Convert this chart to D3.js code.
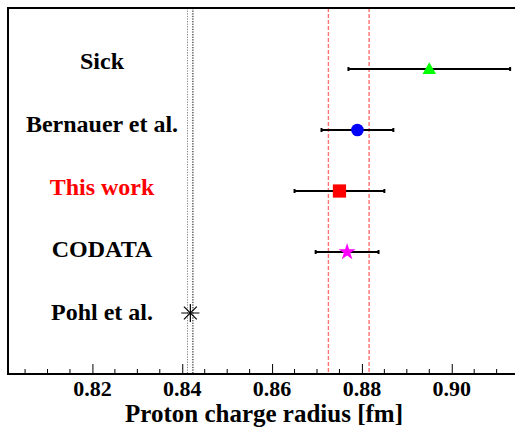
<!DOCTYPE html>
<html>
<head>
<meta charset="utf-8">
<script src="https://cdn.jsdelivr.net/npm/d3@7"></script>
<style>
  body { margin: 0; background: #fff; }
  text { font-family: "Liberation Serif", "Times New Roman", serif; font-weight: bold; }
</style>
</head>
<body>
<div id="chart"></div>
<script>
// measurements, top to bottom
var names = ["Sick", "Bernauer et al.", "This work", "CODATA", "Pohl et al."];
var radius = [0.895, 0.879, 0.875, 0.8767, 0.8418];
var errors = [0.018, 0.008, 0.010, 0.0070, 0.0007];
var markers = ["triangle", "circle", "square", "star", "asterisk"];
var colors = ["#00ff00", "#0000ff", "#ff0000", "#ff00ff", "#000000"];

// bands drawn as vertical lines
var pohlBand = [0.84117, 0.84237];
var codataBand = [0.87254, 0.88160];

var tickValues = [0.82, 0.84, 0.86, 0.88, 0.90];

var W = 515, H = 428;
var padL = 8, padT = 8, padB = 374;

var svg = d3.select("#chart").append("svg")
    .attr("width", W)
    .attr("height", H);

var x = d3.scaleLinear().domain([0.8012, 0.916]).range([padL, 523.6]);
var y = d3.scaleLinear().domain([0, 6]).range([padB, padT]);

// dotted lines (Pohl band)
svg.selectAll(".pohl").data(pohlBand).enter().append("line")
    .attr("x1", function(d) { return x(d); })
    .attr("x2", function(d) { return x(d); })
    .attr("y1", padT).attr("y2", padB)
    .attr("stroke", function(d, i) { return i == 0 ? "#888" : "#000"; })
    .attr("stroke-width", 1)
    .attr("stroke-dasharray", "1.3,1.3");

// dashed red lines
svg.selectAll(".codata").data(codataBand).enter().append("line")
    .attr("x1", function(d) { return x(d); })
    .attr("x2", function(d) { return x(d); })
    .attr("y1", padT).attr("y2", padB)
    .attr("stroke", "#ff7070")
    .attr("stroke-width", 1.4)
    .attr("stroke-dasharray", "4,2");

// frame
svg.append("line").attr("x1", padL).attr("x2", W).attr("y1", padT).attr("y2", padT)
    .attr("stroke", "#000").attr("stroke-width", 2);
svg.append("line").attr("x1", padL).attr("x2", padL).attr("y1", padT - 1).attr("y2", padB + 1)
    .attr("stroke", "#000").attr("stroke-width", 2);

// bottom axis, ticks pointing inward
var minor = d3.range(0.805, 0.916, 0.005).filter(function(v) {
    return Math.abs(Math.round(v * 50) - v * 50) > 1e-6;
});
svg.selectAll(".minor").data(minor).enter().append("line")
    .attr("x1", function(d) { return x(d); })
    .attr("x2", function(d) { return x(d); })
    .attr("y1", padB).attr("y2", padB - 5)
    .attr("stroke", "#000").attr("stroke-width", 1);

var xAxis = d3.axisBottom(x).tickValues(tickValues).tickSize(-10).tickFormat("");
var ax = svg.append("g").attr("transform", "translate(0," + padB + ")").call(xAxis);
ax.select(".domain").remove();
ax.selectAll(".tick line").attr("stroke-width", 1);
ax.selectAll(".tick text").remove();

// tick labels drawn as plain text so the serif font sticks
svg.selectAll(".tlab").data(tickValues).enter().append("text")
    .attr("x", function(d) { return x(d); })
    .attr("y", 396)
    .attr("text-anchor", "middle")
    .attr("font-family", "Liberation Serif")
    .attr("font-weight", "bold")
    .attr("font-size", 22)
    .style("font-size", "22px")
    .attr("fill", "#000")
    .text(function(d) { return d.toFixed(2); });

svg.append("line").attr("x1", padL - 1).attr("x2", W).attr("y1", padB).attr("y2", padB)
    .attr("stroke", "#000").attr("stroke-width", 2);

svg.append("text")
    .attr("x", 264).attr("y", 422)
    .attr("text-anchor", "middle")
    .style("font-size", "25px")
    .text("Proton charge radius [fm]");

// error bars
var rows = names.map(function(n, i) {
    return { name: n, r: radius[i], e: errors[i], m: markers[i], c: colors[i], pos: names.length - i };
});

var bars = svg.selectAll(".err").data(rows.filter(function(d) { return d.m != "asterisk"; }))
    .enter().append("g");
bars.append("line")
    .attr("x1", function(d) { return x(d.r - d.e); })
    .attr("x2", function(d) { return x(d.r + d.e); })
    .attr("y1", function(d) { return y(d.pos); })
    .attr("y2", function(d) { return y(d.pos); })
    .attr("stroke", "#000").attr("stroke-width", 2);
bars.each(function(d) {
    var g = d3.select(this);
    [d.r - d.e, d.r + d.e].forEach(function(v) {
        g.append("line")
            .attr("x1", x(v)).attr("x2", x(v))
            .attr("y1", y(d.pos) - 2).attr("y2", y(d.pos) + 2)
            .attr("stroke", "#000").attr("stroke-width", 2);
    });
});

// markers
var symbolOf = {
    triangle: [d3.symbolTriangle, 80],
    circle: [d3.symbolCircle, 125],
    square: [d3.symbolSquare, 175],
    star: [d3.symbolStar, 90]
};
rows.forEach(function(d) {
    var g = svg.append("g")
        .attr("transform", "translate(" + x(d.r) + "," + y(d.pos) + ")");
    if (d.m == "asterisk") {
        g.append("path").attr("d", d3.symbol(d3.symbolPlus, 110)())
            .attr("fill", "none").attr("stroke", "#000").attr("stroke-width", 1.2);
        g.append("path").attr("d", d3.symbol(d3.symbolX, 110)())
            .attr("fill", "none").attr("stroke", "#000").attr("stroke-width", 1.2);
    } else {
        var s = symbolOf[d.m];
        var dy = d.m == "triangle" ? 1 : 0;
        g.append("path").attr("d", d3.symbol(s[0], s[1])())
            .attr("transform", "translate(0," + dy + ")")
            .attr("fill", d.c);
    }
});

// labels
svg.selectAll(".label").data(rows).enter().append("text")
    .attr("x", 102)
    .attr("y", function(d, i) { return y(d.pos) + i * 1.75; })
    .attr("text-anchor", "middle")
    .style("font-size", "24px")
    .attr("fill", function(d) { return d.name == "This work" ? "#ff0000" : "#000"; })
    .text(function(d) { return d.name; });
</script>
</body>
</html>
